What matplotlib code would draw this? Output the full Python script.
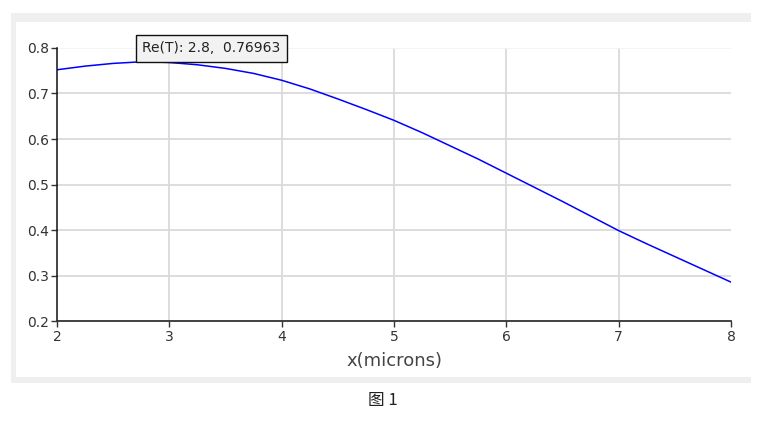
import matplotlib.pyplot as plt
from matplotlib.patches import Rectangle

x_microns = [2.0, 2.25, 2.5, 2.75, 2.8, 3.0, 3.25, 3.5, 3.75, 4.0, 4.25, 4.5, 4.75,
             5.0, 5.25, 5.5, 5.75, 6.0, 6.25, 6.5, 6.75, 7.0, 7.25, 7.5, 7.75, 8.0]
re_t = [0.752, 0.760, 0.766, 0.7695, 0.76963, 0.768, 0.763, 0.755, 0.744, 0.729,
        0.710, 0.688, 0.665, 0.641, 0.614, 0.585, 0.556, 0.525, 0.494, 0.463,
        0.431, 0.399, 0.370, 0.342, 0.314, 0.286]
x_ticks = [2, 3, 4, 5, 6, 7, 8]
y_ticks = [0.2, 0.3, 0.4, 0.5, 0.6, 0.7, 0.8]
tooltip_x, tooltip_y = 2.8, 0.76963

W, H = 769, 422
fig = plt.figure(figsize=(W / 100, H / 100), dpi=100)
fig.patch.set_facecolor('white')

# grey frame around the chart panel (figure pixel coords -> fractions)
def fx(px):
    return px / W

def fy(py):
    return 1 - py / H

fig.patches.append(Rectangle((fx(11), fy(383)), fx(751) - fx(11), fy(13) - fy(383),
                             transform=fig.transFigure, facecolor='#efefef',
                             edgecolor='none', zorder=-2))
fig.patches.append(Rectangle((fx(16), fy(377)), fx(769) - fx(16), fy(22) - fy(377),
                             transform=fig.transFigure, facecolor='white',
                             edgecolor='none', zorder=-1))

ax = fig.add_axes([fx(57), fy(321.3), fx(731) - fx(57), fy(47.9) - fy(321.3)])
ax.patch.set_alpha(0)

ax.plot(x_microns, re_t, color='#0000ff', linewidth=1.1, zorder=3)

ax.set_xlim(2, 8)
ax.set_ylim(0.2, 0.8)
ax.set_xticks(x_ticks)
ax.set_yticks(y_ticks)
ax.set_xticklabels([str(v) for v in x_ticks])
ax.set_yticklabels([f'{v:.1f}' for v in y_ticks])

# grid lines
for v in x_ticks[1:-1]:
    ax.axvline(v, color='#dadada', linewidth=1.3, zorder=1)
for v in y_ticks[1:]:
    c = '#f3f3f3' if v == 0.8 else '#dadada'
    ax.axhline(v, color=c, linewidth=1.3, zorder=1)

for s in ['top', 'right']:
    ax.spines[s].set_visible(False)
ax.spines['left'].set_color('#111111')
ax.spines['bottom'].set_color('#333333')
ax.spines['left'].set_linewidth(1.1)
ax.spines['bottom'].set_linewidth(1.3)
ax.spines['left'].set_zorder(4)
ax.spines['bottom'].set_zorder(4)

ax.tick_params(axis='both', direction='out', length=4, width=1, color='#333333',
               labelsize=10, labelcolor='#333333', pad=2)

ax.set_xlabel('x(microns)', fontsize=13, color='#444444', labelpad=6)

# tooltip box
ax.annotate(f'Re(T): {tooltip_x},  {tooltip_y}', xy=(tooltip_x, tooltip_y),
            xytext=(fx(211.5), fy(48.5)), textcoords='figure fraction',
            ha='center', va='center', fontsize=10, color='#222222',
            bbox=dict(boxstyle='square,pad=0.45', facecolor='#f2f2f2',
                      edgecolor='#111111', linewidth=1.0), zorder=5)

fig.text(fx(383), fy(401), '图 1', ha='center', va='center', fontsize=12,
         color='#222222', family=['Noto Sans CJK SC', 'DejaVu Sans'])

fig.savefig('out.png', dpi=100)
plt.close(fig)
